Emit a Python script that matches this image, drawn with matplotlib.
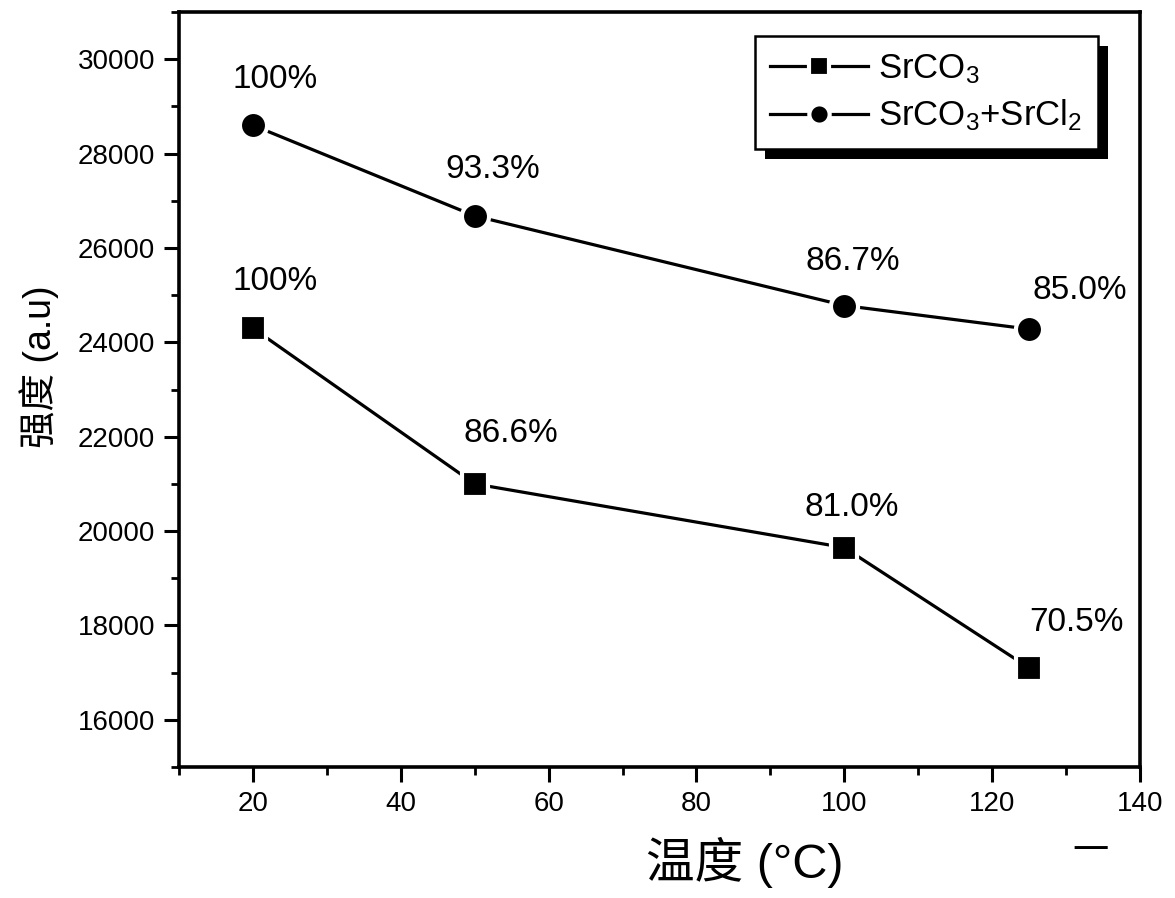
import matplotlib
matplotlib.use("Agg")
import matplotlib.pyplot as plt
from matplotlib.patches import Rectangle
from matplotlib.ticker import MultipleLocator

plt.rcParams['font.family'] = ['Liberation Sans', 'Noto Sans CJK SC', 'DejaVu Sans']
plt.rcParams['mathtext.default'] = 'regular'

# temperature (°C) and emission intensity (a.u)
temps = [20, 50, 100, 125]
srco3 = [24300, 21000, 19650, 17100]
srco3_srcl2 = [28600, 26680, 24780, 24280]
srco3_pct = ['100%', '86.6%', '81.0%', '70.5%']
srco3_srcl2_pct = ['100%', '93.3%', '86.7%', '85.0%']

fig = plt.figure(figsize=(11.75, 8.98), dpi=100)
ax = fig.add_axes([0.1523, 0.1459, 0.8179, 0.8407])

line_kw = dict(color='black', lw=2.3, markeredgecolor='white', markeredgewidth=3)
ax.plot(temps, srco3, marker='s', markersize=19, label=r'SrCO$_{3}$', **line_kw)
ax.plot(temps, srco3_srcl2, marker='o', markersize=19.5,
        label=r'SrCO$_{3}$+SrCl$_{2}$', **line_kw)

# percentage labels, offsets in pixels from each point
off_sq = [(22, -47), (36, -50), (7, -40), (47, -45)]
off_ci = [(22, -46), (18, -46), (9, -44), (51, -39)]
for x, y, t, (dx, dy) in zip(temps, srco3, srco3_pct, off_sq):
    ax.annotate(t, (x, y), xytext=(dx, -dy), textcoords='offset pixels',
                ha='center', va='center', fontsize=24)
for x, y, t, (dx, dy) in zip(temps, srco3_srcl2, srco3_srcl2_pct, off_ci):
    ax.annotate(t, (x, y), xytext=(dx, -dy), textcoords='offset pixels',
                ha='center', va='center', fontsize=24)

ax.set_xlim(10, 140)
ax.set_ylim(15000, 31000)
ax.xaxis.set_major_locator(MultipleLocator(20))
ax.xaxis.set_minor_locator(MultipleLocator(10))
ax.yaxis.set_major_locator(MultipleLocator(2000))
ax.yaxis.set_minor_locator(MultipleLocator(1000))
ax.set_yticks(range(16000, 30001, 2000))
ax.tick_params(which='major', direction='out', length=11, width=2.2,
               labelsize=20, pad=6)
ax.tick_params(which='minor', direction='out', length=6, width=2.0)
for s in ax.spines.values():
    s.set_linewidth(2.6)

ax.set_ylabel('强度 (a.u)', fontsize=27)
ax.yaxis.set_label_coords(-0.125, 0.53)
fig.text(0.634, 0.04, '温度 (°C)', fontsize=35, ha='center', va='center')
fig.text(0.928, 0.051, '一', fontsize=26, ha='center', va='center')

leg = ax.legend(loc='upper right', bbox_to_anchor=(0.956, 0.968), borderaxespad=0,
                fontsize=25, fancybox=False, edgecolor='black', framealpha=1,
                handlelength=2.8, markerscale=0.75, labelspacing=0.35,
                handletextpad=0.3, borderpad=0.45)
leg.get_frame().set_linewidth(1.8)

# solid drop shadow behind the legend box
fig.canvas.draw()
bb = leg.get_window_extent().transformed(ax.transAxes.inverted())
sx = 10 / (ax.bbox.width)
sy = 10 / (ax.bbox.height)
ax.add_patch(Rectangle((bb.x0 + sx, bb.y0 - sy), bb.width, bb.height,
                       transform=ax.transAxes, facecolor='black', edgecolor='none',
                       zorder=4, clip_on=False))

fig.savefig('out.png', dpi=100)
